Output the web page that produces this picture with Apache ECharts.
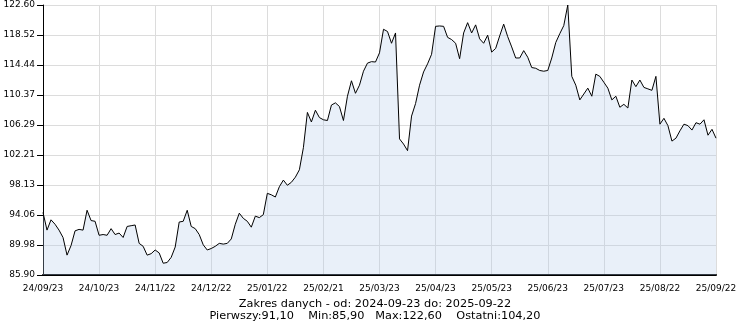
<!DOCTYPE html>
<html>
<head>
<meta charset="utf-8">
<script src="https://cdn.jsdelivr.net/npm/echarts@6/dist/echarts.min.js"></script>
<style>
html,body{margin:0;padding:0;background:#fff;}
#c{width:750px;height:325px;}
</style>
</head>
<body>
<div id="c"></div>
<script>
const tickLabels = ['24/09/23','24/10/23','24/11/22','24/12/22','25/01/22','25/02/21','25/03/23','25/04/23','25/05/23','25/06/23','25/07/23','25/08/22','25/09/22'];
const STEP = 14;
const prices = [
94.4,92.0,93.4,92.8,92.0,91.0,88.6,89.9,91.9,92.1,92.0,94.7,93.3,93.2,
91.3,91.4,91.3,92.2,91.4,91.6,91.0,92.5,92.6,92.7,90.2,89.8,88.6,88.8,
89.3,88.9,87.5,87.6,88.3,89.7,93.1,93.2,94.7,92.5,92.2,91.4,90.0,89.3,
89.5,89.8,90.2,90.1,90.2,90.8,92.8,94.3,93.6,93.2,92.4,93.9,93.7,94.1,
97.0,96.8,96.5,97.9,98.8,98.1,98.5,99.2,100.2,103.2,108.0,106.7,108.3,107.3,
107.0,106.9,109.0,109.3,108.8,106.9,110.2,112.3,110.6,111.7,113.6,114.7,114.9,114.85,
116.1,119.3,119.0,117.4,118.8,104.4,103.7,102.8,107.5,109.2,111.7,113.5,114.6,115.9,
119.7,119.75,119.7,118.2,117.9,117.4,115.3,118.8,120.2,118.8,119.9,118.0,117.4,118.5,
116.2,116.7,118.4,120.0,118.3,116.9,115.4,115.4,116.4,115.5,114.1,114.0,113.7,113.6,
113.7,115.4,117.5,118.7,119.8,122.6,112.9,111.7,109.7,110.5,111.3,110.2,113.2,112.9,
112.1,111.3,109.7,110.2,108.7,109.1,108.6,112.4,111.5,112.4,111.4,111.2,111.0,112.9,
106.4,107.2,106.2,104.1,104.5,105.5,106.4,106.2,105.6,106.6,106.4,107.0,104.9,105.7,
104.5
];
const yMin = 85.90, yMax = 122.60;
const infoLine1 = 'Zakres danych - od: 2024-09-23 do: 2025-09-22';
const infoLine2 = 'Pierwszy:91,10    Min:85,90   Max:122,60    Ostatni:104,20';

const categories = prices.map((_, i) => String(i));
const chart = echarts.init(document.getElementById('c'), null, {renderer:'canvas'});
const FONT = 'DejaVu Sans';
chart.setOption({
  animation: false,
  grid: {left: 43, right: 34, top: 5, bottom: 50, containLabel: false},
  xAxis: {
    type: 'category',
    data: categories,
    boundaryGap: false,
    axisLine: {show: true, lineStyle: {color: '#000', width: 2}},
    axisTick: {show: false},
    axisLabel: {
      interval: STEP - 1,
      margin: 9,
      color: '#000',
      fontFamily: FONT,
      fontSize: 9,
      formatter: (v, idx) => (idx % STEP === 0 ? tickLabels[idx / STEP] : '')
    },
    splitLine: {show: true, interval: STEP - 1, lineStyle: {color: '#dcdcdc', width: 1}}
  },
  yAxis: {
    type: 'value',
    min: yMin,
    max: yMax,
    interval: (yMax - yMin) / 9,
    axisLine: {show: true, lineStyle: {color: '#000', width: 1}},
    axisTick: {show: true, length: 6, lineStyle: {color: '#000'}},
    axisLabel: {
      margin: 8,
      color: '#000',
      fontFamily: FONT,
      fontSize: 9,
      formatter: v => v.toFixed(2)
    },
    splitLine: {show: true, lineStyle: {color: '#dcdcdc', width: 1}}
  },
  series: [{
    type: 'line',
    data: prices,
    symbol: 'none',
    sampling: null,
    lineStyle: {color: '#000', width: 1},
    areaStyle: {color: 'rgba(180,205,235,0.42)', origin: 'start'}
  }],
  graphic: [
    {type: 'text', x: 375, y: 304, style: {text: infoLine1, textAlign: 'center', textVerticalAlign: 'middle', fill: '#000', font: '11.3px "DejaVu Sans"'}},
    {type: 'text', x: 375, y: 316, style: {text: infoLine2, textAlign: 'center', textVerticalAlign: 'middle', fill: '#000', font: '11.3px "DejaVu Sans"'}}
  ]
});
</script>
</body>
</html>
